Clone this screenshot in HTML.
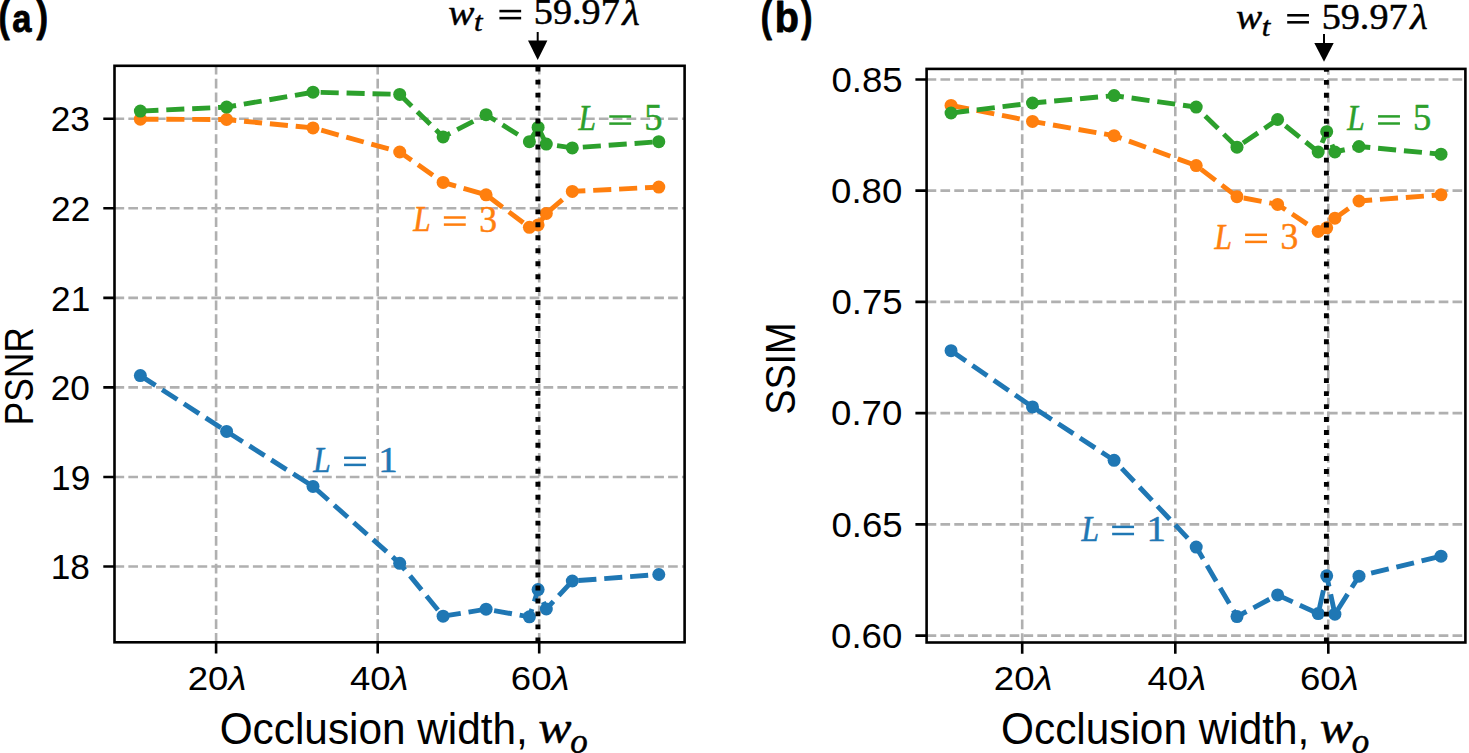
<!DOCTYPE html>
<html><head><meta charset="utf-8"><style>
html,body{margin:0;padding:0;background:#fff;}
body{width:1469px;height:753px;overflow:hidden;font-family:"Liberation Sans",sans-serif;}
svg{display:block;}
</style></head><body>
<svg width="1469" height="753" viewBox="0 0 1469 753">
<rect width="1469" height="753" fill="#fff"/>
<path d="M114.5 118.8H684.6M114.5 208.3H684.6M114.5 297.9H684.6M114.5 387.4H684.6M114.5 477H684.6M114.5 566.5H684.6" stroke="#b0b0b0" stroke-width="2.6" stroke-dasharray="9.67 4.17" fill="none"/>
<path d="M216.1 642.3V65.8M377.7 642.3V65.8M539.2 642.3V65.8" stroke="#b0b0b0" stroke-width="2.6" stroke-dasharray="9.68 4.18" stroke-dashoffset="0.5" fill="none"/>
<path d="M140.35 375.6 L226.6 431.4 L313 486.4 L399.7 563.3 L443.1 616.2 L486.1 609.2 L529.4 616.8 L538.1 589.6 L546.3 609 L572.3 581 L658.8 574.5" stroke="#1f77b4" stroke-width="4.9" stroke-dasharray="18.1 7.85" fill="none"/>
<g fill="#1f77b4"><circle cx="140.35" cy="375.6" r="6.5"/><circle cx="226.6" cy="431.4" r="6.5"/><circle cx="313" cy="486.4" r="6.5"/><circle cx="399.7" cy="563.3" r="6.5"/><circle cx="443.1" cy="616.2" r="6.5"/><circle cx="486.1" cy="609.2" r="6.5"/><circle cx="529.4" cy="616.8" r="6.5"/><circle cx="538.1" cy="589.6" r="6.5"/><circle cx="546.3" cy="609" r="6.5"/><circle cx="572.3" cy="581" r="6.5"/><circle cx="658.8" cy="574.5" r="6.5"/></g>
<path d="M140.35 119.2 L226.6 119.5 L313 127.9 L399.7 152 L443.1 182.4 L486.1 194.8 L529.4 227.3 L538.1 224.9 L546.3 213.4 L572.3 191.4 L658.8 187.1" stroke="#ff7f0e" stroke-width="4.9" stroke-dasharray="18.1 7.85" fill="none"/>
<g fill="#ff7f0e"><circle cx="140.35" cy="119.2" r="6.5"/><circle cx="226.6" cy="119.5" r="6.5"/><circle cx="313" cy="127.9" r="6.5"/><circle cx="399.7" cy="152" r="6.5"/><circle cx="443.1" cy="182.4" r="6.5"/><circle cx="486.1" cy="194.8" r="6.5"/><circle cx="529.4" cy="227.3" r="6.5"/><circle cx="538.1" cy="224.9" r="6.5"/><circle cx="546.3" cy="213.4" r="6.5"/><circle cx="572.3" cy="191.4" r="6.5"/><circle cx="658.8" cy="187.1" r="6.5"/></g>
<path d="M140.35 111.1 L226.6 107.1 L313 92.2 L399.7 94.4 L443.1 136.9 L486.1 114.7 L529.4 141.7 L538.1 127.4 L546.3 144.1 L572.3 147.9 L658.8 141.7" stroke="#2ca02c" stroke-width="4.9" stroke-dasharray="18.1 7.85" fill="none"/>
<g fill="#2ca02c"><circle cx="140.35" cy="111.1" r="6.5"/><circle cx="226.6" cy="107.1" r="6.5"/><circle cx="313" cy="92.2" r="6.5"/><circle cx="399.7" cy="94.4" r="6.5"/><circle cx="443.1" cy="136.9" r="6.5"/><circle cx="486.1" cy="114.7" r="6.5"/><circle cx="529.4" cy="141.7" r="6.5"/><circle cx="538.1" cy="127.4" r="6.5"/><circle cx="546.3" cy="144.1" r="6.5"/><circle cx="572.3" cy="147.9" r="6.5"/><circle cx="658.8" cy="141.7" r="6.5"/></g>
<path d="M537.9 642.3V65.8" stroke="#000" stroke-width="4.9" stroke-dasharray="4.9 8.07" fill="none"/>
<rect x="114.5" y="65.8" width="570.1" height="576.5" fill="none" stroke="#000" stroke-width="2.6"/>
<path d="M103.3 118.8H114.5M103.3 208.3H114.5M103.3 297.9H114.5M103.3 387.4H114.5M103.3 477H114.5M103.3 566.5H114.5M216.1 642.3V653.5M377.7 642.3V653.5M539.2 642.3V653.5" stroke="#000" stroke-width="2.6" fill="none"/>
<path d="M926.6 79.5H1465.4M926.6 190.6H1465.4M926.6 301.9H1465.4M926.6 413.1H1465.4M926.6 524.4H1465.4M926.6 635.6H1465.4" stroke="#b0b0b0" stroke-width="2.6" stroke-dasharray="9.67 4.17" fill="none"/>
<path d="M1022.2 642.5V68.9M1175.3 642.5V68.9M1328.3 642.5V68.9" stroke="#b0b0b0" stroke-width="2.6" stroke-dasharray="9.68 4.18" stroke-dashoffset="0.5" fill="none"/>
<path d="M951.05 350.7 L1032.5 406.9 L1114.1 460.3 L1196.2 547.1 L1237 616.6 L1277.6 594.9 L1318.2 613.6 L1326.7 575.8 L1334.9 614.2 L1359 576.2 L1441 556.2" stroke="#1f77b4" stroke-width="4.9" stroke-dasharray="18.1 7.85" fill="none"/>
<g fill="#1f77b4"><circle cx="951.05" cy="350.7" r="6.5"/><circle cx="1032.5" cy="406.9" r="6.5"/><circle cx="1114.1" cy="460.3" r="6.5"/><circle cx="1196.2" cy="547.1" r="6.5"/><circle cx="1237" cy="616.6" r="6.5"/><circle cx="1277.6" cy="594.9" r="6.5"/><circle cx="1318.2" cy="613.6" r="6.5"/><circle cx="1326.7" cy="575.8" r="6.5"/><circle cx="1334.9" cy="614.2" r="6.5"/><circle cx="1359" cy="576.2" r="6.5"/><circle cx="1441" cy="556.2" r="6.5"/></g>
<path d="M951.05 105.4 L1032.5 121.4 L1114.1 135.7 L1196.2 165.6 L1237 196.7 L1277.6 204.4 L1318.2 231.4 L1326.7 227.8 L1334.9 218.2 L1359 201 L1441 194.8" stroke="#ff7f0e" stroke-width="4.9" stroke-dasharray="18.1 7.85" fill="none"/>
<g fill="#ff7f0e"><circle cx="951.05" cy="105.4" r="6.5"/><circle cx="1032.5" cy="121.4" r="6.5"/><circle cx="1114.1" cy="135.7" r="6.5"/><circle cx="1196.2" cy="165.6" r="6.5"/><circle cx="1237" cy="196.7" r="6.5"/><circle cx="1277.6" cy="204.4" r="6.5"/><circle cx="1318.2" cy="231.4" r="6.5"/><circle cx="1326.7" cy="227.8" r="6.5"/><circle cx="1334.9" cy="218.2" r="6.5"/><circle cx="1359" cy="201" r="6.5"/><circle cx="1441" cy="194.8" r="6.5"/></g>
<path d="M951.05 113 L1032.5 103 L1114.1 95.6 L1196.2 107.1 L1237 147.2 L1277.6 119.5 L1318.2 152 L1326.7 131.7 L1334.9 152 L1359 146.5 L1441 154.2" stroke="#2ca02c" stroke-width="4.9" stroke-dasharray="18.1 7.85" fill="none"/>
<g fill="#2ca02c"><circle cx="951.05" cy="113" r="6.5"/><circle cx="1032.5" cy="103" r="6.5"/><circle cx="1114.1" cy="95.6" r="6.5"/><circle cx="1196.2" cy="107.1" r="6.5"/><circle cx="1237" cy="147.2" r="6.5"/><circle cx="1277.6" cy="119.5" r="6.5"/><circle cx="1318.2" cy="152" r="6.5"/><circle cx="1326.7" cy="131.7" r="6.5"/><circle cx="1334.9" cy="152" r="6.5"/><circle cx="1359" cy="146.5" r="6.5"/><circle cx="1441" cy="154.2" r="6.5"/></g>
<path d="M1326.4 642.5V68.9" stroke="#000" stroke-width="4.9" stroke-dasharray="4.9 8.07" fill="none"/>
<rect x="926.6" y="68.9" width="538.8" height="573.6" fill="none" stroke="#000" stroke-width="2.6"/>
<path d="M915.4 79.5H926.6M915.4 190.6H926.6M915.4 301.9H926.6M915.4 413.1H926.6M915.4 524.4H926.6M915.4 635.6H926.6M1022.2 642.5V653.7M1175.3 642.5V653.7M1328.3 642.5V653.7" stroke="#000" stroke-width="2.6" fill="none"/>
<path d="M537.7 32V41.6" stroke="#000" stroke-width="2"/>
<path d="M528 40.6L547.4 40.6L537.7 60Z" fill="#000"/>
<path d="M1324 34.1V44.1" stroke="#000" stroke-width="2"/>
<path d="M1314.3 43.1L1333.7 43.1L1324 61.8Z" fill="#000"/>
<rect x="499.4" y="9.8" width="21.75" height="2.55" fill="#000"/>
<rect x="499.4" y="16.85" width="21.75" height="2.55" fill="#000"/>
<rect x="1287.2" y="14" width="21.75" height="2.55" fill="#000"/>
<rect x="1287.2" y="21.05" width="21.75" height="2.55" fill="#000"/>
<rect x="609.25" y="115.25" width="21.9" height="2.5" fill="#2ca02c"/>
<rect x="609.25" y="122.35" width="21.9" height="2.5" fill="#2ca02c"/>
<rect x="443.85" y="216.25" width="21.9" height="2.5" fill="#ff7f0e"/>
<rect x="443.85" y="223.35" width="21.9" height="2.5" fill="#ff7f0e"/>
<rect x="344.05" y="456.55" width="21.9" height="2.5" fill="#1f77b4"/>
<rect x="344.05" y="463.65" width="21.9" height="2.5" fill="#1f77b4"/>
<rect x="1378.05" y="115.15" width="21.9" height="2.5" fill="#2ca02c"/>
<rect x="1378.05" y="122.25" width="21.9" height="2.5" fill="#2ca02c"/>
<rect x="1245.1" y="233.55" width="21.9" height="2.5" fill="#ff7f0e"/>
<rect x="1245.1" y="240.65" width="21.9" height="2.5" fill="#ff7f0e"/>
<rect x="1112.15" y="525.65" width="21.9" height="2.5" fill="#1f77b4"/>
<rect x="1112.15" y="532.75" width="21.9" height="2.5" fill="#1f77b4"/>
<text transform="matrix(0.3357 0 0 0.4234 -1.58 30.51)" font-family="Liberation Sans, sans-serif" font-weight="bold" font-size="100" fill="#000" stroke="#000" stroke-width="2.12" stroke-linejoin="round">(</text>
<text transform="matrix(0.3453 0 0 0.3927 12.26 31.71)" font-family="Liberation Sans, sans-serif" font-weight="bold" font-size="100" fill="#000" stroke="#000" stroke-width="2.17" stroke-linejoin="round">a</text>
<text transform="matrix(0.3464 0 0 0.4234 36.5 30.51)" font-family="Liberation Sans, sans-serif" font-weight="bold" font-size="100" fill="#000" stroke="#000" stroke-width="2.09" stroke-linejoin="round">)</text>
<text transform="matrix(0.3357 0 0 0.4234 760.82 30.51)" font-family="Liberation Sans, sans-serif" font-weight="bold" font-size="100" fill="#000" stroke="#000" stroke-width="2.12" stroke-linejoin="round">(</text>
<text transform="matrix(0.3960 0 0 0.4205 774.73 32.1)" font-family="Liberation Sans, sans-serif" font-weight="bold" font-size="100" fill="#000" stroke="#000" stroke-width="1.96" stroke-linejoin="round">b</text>
<text transform="matrix(0.3357 0 0 0.4234 801.3 30.51)" font-family="Liberation Sans, sans-serif" font-weight="bold" font-size="100" fill="#000" stroke="#000" stroke-width="2.12" stroke-linejoin="round">)</text>
<text transform="translate(33.29 425.43) rotate(-90) scale(0.3534 0.4070)" font-family="Liberation Sans, sans-serif" font-size="100" fill="#000">PSNR</text>
<text transform="translate(795.38 414.79) rotate(-90) scale(0.3779 0.4169)" font-family="Liberation Sans, sans-serif" font-size="100" fill="#000">SSIM</text>
<text transform="matrix(0.4234 0 0 0.4361 219.68 743.94)" font-family="Liberation Sans, sans-serif" font-size="100" fill="#000">Occlusion width,</text>
<text transform="matrix(0.4984 0 0 0.4596 538.35 742.99)" font-family="Liberation Serif, serif" font-style="italic" font-size="100" fill="#000" stroke="#000" stroke-width="1.04" stroke-linejoin="round">w</text>
<text transform="matrix(0.3500 0 0 0.3500 570.3 752.6)" font-family="Liberation Serif, serif" font-style="italic" font-size="100" fill="#000" stroke="#000" stroke-width="1.43" stroke-linejoin="round">o</text>
<text transform="matrix(0.4234 0 0 0.4361 1001.08 743.94)" font-family="Liberation Sans, sans-serif" font-size="100" fill="#000">Occlusion width,</text>
<text transform="matrix(0.4984 0 0 0.4596 1319.75 742.99)" font-family="Liberation Serif, serif" font-style="italic" font-size="100" fill="#000" stroke="#000" stroke-width="1.04" stroke-linejoin="round">w</text>
<text transform="matrix(0.3500 0 0 0.3500 1351.7 752.6)" font-family="Liberation Serif, serif" font-style="italic" font-size="100" fill="#000" stroke="#000" stroke-width="1.43" stroke-linejoin="round">o</text>
<text transform="matrix(0.3921 0 0 0.3574 448.17 24.69)" font-family="Liberation Serif, serif" font-style="italic" font-size="100" fill="#000" stroke="#000" stroke-width="1.34" stroke-linejoin="round">w</text>
<text transform="matrix(0.3077 0 0 0.2667 474.02 31.48)" font-family="Liberation Serif, serif" font-style="italic" font-size="100" fill="#000" stroke="#000" stroke-width="1.75" stroke-linejoin="round">t</text>
<text transform="matrix(0.3819 0 0 0.3576 533.86 24.49)" font-family="Liberation Serif, serif" font-size="100" fill="#000" stroke="#000" stroke-width="1.35" stroke-linejoin="round">59.97</text>
<text transform="matrix(0.4047 0 0 0.3486 622.36 24.65)" font-family="Liberation Serif, serif" font-style="italic" font-size="100" fill="#000" stroke="#000" stroke-width="1.33" stroke-linejoin="round">λ</text>
<text transform="matrix(0.3921 0 0 0.3574 1235.97 28.89)" font-family="Liberation Serif, serif" font-style="italic" font-size="100" fill="#000" stroke="#000" stroke-width="1.34" stroke-linejoin="round">w</text>
<text transform="matrix(0.3077 0 0 0.2667 1261.82 35.68)" font-family="Liberation Serif, serif" font-style="italic" font-size="100" fill="#000" stroke="#000" stroke-width="1.75" stroke-linejoin="round">t</text>
<text transform="matrix(0.3819 0 0 0.3576 1321.66 28.69)" font-family="Liberation Serif, serif" font-size="100" fill="#000" stroke="#000" stroke-width="1.35" stroke-linejoin="round">59.97</text>
<text transform="matrix(0.4047 0 0 0.3486 1410.16 28.85)" font-family="Liberation Serif, serif" font-style="italic" font-size="100" fill="#000" stroke="#000" stroke-width="1.33" stroke-linejoin="round">λ</text>
<text transform="matrix(0.3135 0 0 0.3677 578.56 130.45)" font-family="Liberation Serif, serif" font-style="italic" font-size="100" fill="#2ca02c" stroke="#2ca02c" stroke-width="1.47" stroke-linejoin="round">L</text>
<text transform="matrix(0.3650 0 0 0.3818 644.16 130.17)" font-family="Liberation Serif, serif" font-size="100" fill="#2ca02c" stroke="#2ca02c" stroke-width="1.34" stroke-linejoin="round">5</text>
<text transform="matrix(0.3135 0 0 0.3677 413.16 231.45)" font-family="Liberation Serif, serif" font-style="italic" font-size="100" fill="#ff7f0e" stroke="#ff7f0e" stroke-width="1.47" stroke-linejoin="round">L</text>
<text transform="matrix(0.3561 0 0 0.3773 479.17 231.57)" font-family="Liberation Serif, serif" font-size="100" fill="#ff7f0e" stroke="#ff7f0e" stroke-width="1.36" stroke-linejoin="round">3</text>
<text transform="matrix(0.3135 0 0 0.3677 313.36 471.75)" font-family="Liberation Serif, serif" font-style="italic" font-size="100" fill="#1f77b4" stroke="#1f77b4" stroke-width="1.47" stroke-linejoin="round">L</text>
<text transform="matrix(0.3886 0 0 0.3591 378.35 471.75)" font-family="Liberation Serif, serif" font-size="100" fill="#1f77b4" stroke="#1f77b4" stroke-width="1.34" stroke-linejoin="round">1</text>
<text transform="matrix(0.3135 0 0 0.3677 1347.36 130.35)" font-family="Liberation Serif, serif" font-style="italic" font-size="100" fill="#2ca02c" stroke="#2ca02c" stroke-width="1.47" stroke-linejoin="round">L</text>
<text transform="matrix(0.3650 0 0 0.3818 1412.96 130.07)" font-family="Liberation Serif, serif" font-size="100" fill="#2ca02c" stroke="#2ca02c" stroke-width="1.34" stroke-linejoin="round">5</text>
<text transform="matrix(0.3135 0 0 0.3677 1214.41 248.75)" font-family="Liberation Serif, serif" font-style="italic" font-size="100" fill="#ff7f0e" stroke="#ff7f0e" stroke-width="1.47" stroke-linejoin="round">L</text>
<text transform="matrix(0.3561 0 0 0.3773 1280.42 248.87)" font-family="Liberation Serif, serif" font-size="100" fill="#ff7f0e" stroke="#ff7f0e" stroke-width="1.36" stroke-linejoin="round">3</text>
<text transform="matrix(0.3135 0 0 0.3677 1081.46 540.85)" font-family="Liberation Serif, serif" font-style="italic" font-size="100" fill="#1f77b4" stroke="#1f77b4" stroke-width="1.47" stroke-linejoin="round">L</text>
<text transform="matrix(0.3886 0 0 0.3591 1146.45 540.85)" font-family="Liberation Serif, serif" font-size="100" fill="#1f77b4" stroke="#1f77b4" stroke-width="1.34" stroke-linejoin="round">1</text>
<text transform="matrix(0.3525 0 0 0.3429 50.69 130.9)" font-family="Liberation Sans, sans-serif" font-size="100" fill="#000">23</text>
<text transform="matrix(0.3525 0 0 0.3429 51.04 221)" font-family="Liberation Sans, sans-serif" font-size="100" fill="#000">22</text>
<text transform="matrix(0.3525 0 0 0.3429 51.04 310.6)" font-family="Liberation Sans, sans-serif" font-size="100" fill="#000">21</text>
<text transform="matrix(0.3525 0 0 0.3429 50.69 400.1)" font-family="Liberation Sans, sans-serif" font-size="100" fill="#000">20</text>
<text transform="matrix(0.3525 0 0 0.3429 51.04 489.7)" font-family="Liberation Sans, sans-serif" font-size="100" fill="#000">19</text>
<text transform="matrix(0.3525 0 0 0.3429 50.69 579.2)" font-family="Liberation Sans, sans-serif" font-size="100" fill="#000">18</text>
<text transform="matrix(0.3660 0 0 0.3311 187.77 690.37)" font-family="Liberation Sans, sans-serif" font-size="100" fill="#000">20<tspan font-style="italic">λ</tspan></text>
<text transform="matrix(0.3660 0 0 0.3311 349.92 690.37)" font-family="Liberation Sans, sans-serif" font-size="100" fill="#000">40<tspan font-style="italic">λ</tspan></text>
<text transform="matrix(0.3660 0 0 0.3311 510.87 690.37)" font-family="Liberation Sans, sans-serif" font-size="100" fill="#000">60<tspan font-style="italic">λ</tspan></text>
<text transform="matrix(0.3661 0 0 0.3521 831.44 91.75)" font-family="Liberation Sans, sans-serif" font-size="100" fill="#000">0.85</text>
<text transform="matrix(0.3661 0 0 0.3521 831.07 202.85)" font-family="Liberation Sans, sans-serif" font-size="100" fill="#000">0.80</text>
<text transform="matrix(0.3661 0 0 0.3521 831.44 314.15)" font-family="Liberation Sans, sans-serif" font-size="100" fill="#000">0.75</text>
<text transform="matrix(0.3661 0 0 0.3521 831.07 425.35)" font-family="Liberation Sans, sans-serif" font-size="100" fill="#000">0.70</text>
<text transform="matrix(0.3661 0 0 0.3521 831.44 536.65)" font-family="Liberation Sans, sans-serif" font-size="100" fill="#000">0.65</text>
<text transform="matrix(0.3661 0 0 0.3521 831.07 647.85)" font-family="Liberation Sans, sans-serif" font-size="100" fill="#000">0.60</text>
<text transform="matrix(0.3660 0 0 0.3311 993.87 690.37)" font-family="Liberation Sans, sans-serif" font-size="100" fill="#000">20<tspan font-style="italic">λ</tspan></text>
<text transform="matrix(0.3660 0 0 0.3311 1147.52 690.37)" font-family="Liberation Sans, sans-serif" font-size="100" fill="#000">40<tspan font-style="italic">λ</tspan></text>
<text transform="matrix(0.3660 0 0 0.3311 1299.97 690.37)" font-family="Liberation Sans, sans-serif" font-size="100" fill="#000">60<tspan font-style="italic">λ</tspan></text>
</svg>
</body></html>
